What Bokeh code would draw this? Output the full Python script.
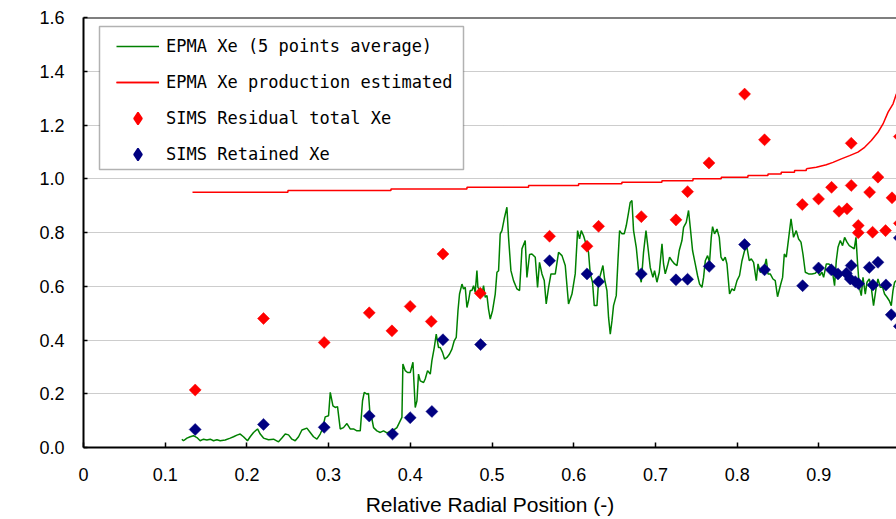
import math

from bokeh.plotting import figure
from bokeh.models import (Range1d, FixedTicker, CustomJSTickFormatter, Span, Label,
                          Legend, LegendItem, BoxAnnotation)
from bokeh.embed import file_html
from bokeh.resources import INLINE

# Axis ticks and their labels
x_ticks = [0, 0.1, 0.2, 0.3, 0.4, 0.5, 0.6, 0.7, 0.8, 0.9]
x_tick_labels = ["0", "0.1", "0.2", "0.3", "0.4", "0.5", "0.6", "0.7", "0.8", "0.9"]
y_ticks = [0, 0.2, 0.4, 0.6, 0.8, 1.0, 1.2, 1.4, 1.6]
y_tick_labels = ["0.0", "0.2", "0.4", "0.6", "0.8", "1.0", "1.2", "1.4", "1.6"]

# EPMA Xe, 5-point running average (relative radial position, wt%)
epma_x = [
    0.1204, 0.1224, 0.1266, 0.1306, 0.1346, 0.1388, 0.1428, 0.1469, 0.1510, 0.1551,
    0.1591, 0.1633, 0.1673, 0.1734, 0.1796, 0.1836, 0.1878, 0.1918, 0.1958, 0.2007,
    0.2040, 0.2081, 0.2130, 0.2163, 0.2203, 0.2264, 0.2326, 0.2387, 0.2428, 0.2469,
    0.2509, 0.2551, 0.2591, 0.2632, 0.2673, 0.2734, 0.2775, 0.2815, 0.2857, 0.2897,
    0.2925, 0.2958, 0.2999, 0.3020, 0.3053, 0.3081, 0.3109, 0.3142, 0.3182, 0.3224,
    0.3264, 0.3305, 0.3346, 0.3387, 0.3415, 0.3436, 0.3469, 0.3488, 0.3509, 0.3530,
    0.3550, 0.3591, 0.3632, 0.3672, 0.3714, 0.3754, 0.3794, 0.3836, 0.3876, 0.3897,
    0.3909, 0.3938, 0.3966, 0.3999, 0.4032, 0.4060, 0.4081, 0.4100, 0.4121, 0.4162,
    0.4182, 0.4211, 0.4244, 0.4264, 0.4293, 0.4317, 0.4345, 0.4366, 0.4394, 0.4419,
    0.4448, 0.4480, 0.4509, 0.4537, 0.4562, 0.4583, 0.4602, 0.4632, 0.4651, 0.4672,
    0.4693, 0.4712, 0.4733, 0.4754, 0.4774, 0.4794, 0.4815, 0.4827, 0.4856, 0.4876,
    0.4896, 0.4917, 0.4938, 0.4957, 0.4978, 0.5006, 0.5039, 0.5060, 0.5080, 0.5100,
    0.5121, 0.5149, 0.5182, 0.5202, 0.5231, 0.5263, 0.5305, 0.5337, 0.5366, 0.5406,
    0.5427, 0.5459, 0.5488, 0.5529, 0.5557, 0.5581, 0.5611, 0.5639, 0.5663, 0.5692,
    0.5721, 0.5774, 0.5814, 0.5856, 0.5896, 0.5936, 0.5978, 0.6018, 0.6047, 0.6071,
    0.6092, 0.6120, 0.6162, 0.6181, 0.6202, 0.6230, 0.6251, 0.6284, 0.6304, 0.6324,
    0.6357, 0.6377, 0.6406, 0.6426, 0.6447, 0.6468, 0.6487, 0.6520, 0.6541, 0.6561,
    0.6590, 0.6618, 0.6643, 0.6671, 0.6691, 0.6712, 0.6732, 0.6765, 0.6793, 0.6826,
    0.6854, 0.6884, 0.6908, 0.6936, 0.6969, 0.6989, 0.7018, 0.7047, 0.7080, 0.7099,
    0.7120, 0.7148, 0.7173, 0.7202, 0.7234, 0.7263, 0.7291, 0.7324, 0.7344, 0.7377,
    0.7405, 0.7426, 0.7454, 0.7487, 0.7515, 0.7540, 0.7569, 0.7589, 0.7610, 0.7638,
    0.7662, 0.7683, 0.7699, 0.7723, 0.7753, 0.7781, 0.7802, 0.7826, 0.7854, 0.7875,
    0.7907, 0.7936, 0.7965, 0.7998, 0.8029, 0.8059, 0.8091, 0.8120, 0.8148, 0.8173,
    0.8201, 0.8234, 0.8255, 0.8283, 0.8311, 0.8332, 0.8356, 0.8377, 0.8405, 0.8438,
    0.8466, 0.8494, 0.8528, 0.8556, 0.8577, 0.8601, 0.8629, 0.8659, 0.8690, 0.8723,
    0.8752, 0.8781, 0.8805, 0.8834, 0.8874, 0.8916, 0.8956, 0.8984, 0.9009, 0.9038,
    0.9058, 0.9091, 0.9119, 0.9148, 0.9173, 0.9192, 0.9213, 0.9234, 0.9262, 0.9290,
    0.9315, 0.9344, 0.9372, 0.9405, 0.9433, 0.9454, 0.9474, 0.9495, 0.9519, 0.9540,
    0.9568, 0.9589, 0.9617, 0.9641, 0.9669, 0.9699, 0.9723, 0.9752, 0.9780, 0.9804,
    0.9834, 0.9862, 0.9886, 0.9907, 0.9927, 0.9947,
]
epma_y = [
    0.031, 0.025, 0.035, 0.040, 0.044, 0.037, 0.025, 0.031, 0.028, 0.031,
    0.025, 0.029, 0.025, 0.028, 0.035, 0.040, 0.046, 0.050, 0.040, 0.025,
    0.040, 0.056, 0.069, 0.050, 0.035, 0.029, 0.031, 0.021, 0.035, 0.050,
    0.047, 0.031, 0.025, 0.040, 0.065, 0.072, 0.056, 0.040, 0.031, 0.050,
    0.069, 0.114, 0.118, 0.205, 0.155, 0.149, 0.152, 0.069, 0.074, 0.089,
    0.069, 0.069, 0.062, 0.062, 0.174, 0.205, 0.199, 0.201, 0.112, 0.106,
    0.074, 0.062, 0.056, 0.062, 0.054, 0.060, 0.065, 0.074, 0.099, 0.112,
    0.311, 0.286, 0.279, 0.279, 0.317, 0.149, 0.174, 0.273, 0.248, 0.242,
    0.255, 0.286, 0.273, 0.323, 0.372, 0.422, 0.372, 0.372, 0.354, 0.329,
    0.335, 0.348, 0.366, 0.397, 0.410, 0.509, 0.571, 0.608, 0.590, 0.596,
    0.521, 0.546, 0.584, 0.584, 0.602, 0.577, 0.658, 0.596, 0.584, 0.571,
    0.602, 0.559, 0.565, 0.515, 0.478, 0.509, 0.571, 0.652, 0.658, 0.795,
    0.807, 0.851, 0.894, 0.782, 0.658, 0.621, 0.590, 0.584, 0.739, 0.770,
    0.633, 0.718, 0.720, 0.708, 0.596, 0.689, 0.646, 0.621, 0.534, 0.596,
    0.646, 0.646, 0.726, 0.714, 0.677, 0.534, 0.571, 0.646, 0.807, 0.776,
    0.807, 0.788, 0.745, 0.726, 0.646, 0.615, 0.528, 0.528, 0.621, 0.640,
    0.677, 0.627, 0.584, 0.484, 0.422, 0.472, 0.528, 0.565, 0.695, 0.807,
    0.795, 0.795, 0.826, 0.875, 0.912, 0.919, 0.807, 0.745, 0.658, 0.615,
    0.726, 0.807, 0.745, 0.670, 0.633, 0.658, 0.615, 0.652, 0.758, 0.683,
    0.646, 0.677, 0.708, 0.695, 0.683, 0.677, 0.733, 0.770, 0.819, 0.838,
    0.882, 0.819, 0.733, 0.683, 0.640, 0.608, 0.596, 0.633, 0.695, 0.714,
    0.689, 0.782, 0.822, 0.795, 0.813, 0.782, 0.708, 0.695, 0.708, 0.683,
    0.571, 0.590, 0.584, 0.621, 0.640, 0.695, 0.733, 0.745, 0.695, 0.702,
    0.689, 0.621, 0.683, 0.652, 0.658, 0.670, 0.702, 0.646, 0.646, 0.627,
    0.621, 0.561, 0.602, 0.633, 0.720, 0.708, 0.776, 0.851, 0.782, 0.807,
    0.776, 0.764, 0.720, 0.652, 0.646, 0.646, 0.648, 0.658, 0.640, 0.652,
    0.633, 0.683, 0.683, 0.677, 0.640, 0.602, 0.695, 0.745, 0.770, 0.751,
    0.782, 0.764, 0.751, 0.745, 0.739, 0.782, 0.683, 0.596, 0.565, 0.633,
    0.571, 0.615, 0.627, 0.596, 0.528, 0.590, 0.627, 0.596, 0.596, 0.571,
    0.559, 0.546, 0.528, 0.584, 0.615, 0.621,
]

# Estimated Xe production: stepped plateau, then the rising rim section
prod_step_x = [0.1334, 0.2502, 0.3763, 0.4693, 0.5447, 0.6059, 0.6589, 0.7079,
               0.7459, 0.7805, 0.8132, 0.8377, 0.8539, 0.8702]
prod_step_y = [0.950, 0.956, 0.962, 0.968, 0.975, 0.981, 0.987, 0.993,
               1.000, 1.006, 1.012, 1.018, 1.024, 1.031]
prod_rim_x = [0.8846, 0.8968, 0.9091, 0.9173, 0.9275, 0.9376, 0.9478, 0.9560,
              0.9642, 0.9724, 0.9785, 0.9847, 0.9908, 0.9949]
prod_rim_y = [1.037, 1.043, 1.052, 1.061, 1.074, 1.086, 1.099, 1.117,
              1.142, 1.173, 1.204, 1.248, 1.279, 1.316]

# SIMS residual total Xe
sims_total_x = [0.1367, 0.2203, 0.2946, 0.3497, 0.3775, 0.3998, 0.4256, 0.4399, 0.4856,
                0.5704, 0.6162, 0.6304, 0.6827, 0.7251, 0.7393, 0.7655, 0.8091, 0.8335,
                0.8797, 0.8996, 0.9155, 0.9246, 0.9344, 0.9396, 0.9396, 0.9482, 0.9482,
                0.9621, 0.9657, 0.9723, 0.9816, 0.9895, 0.9985, 0.9985]
sims_total_y = [0.214, 0.480, 0.391, 0.501, 0.434, 0.525, 0.469, 0.720, 0.574,
                0.786, 0.749, 0.823, 0.859, 0.847, 0.952, 1.059, 1.315, 1.145,
                0.904, 0.925, 0.968, 0.879, 0.888, 1.132, 0.975, 0.826, 0.799,
                0.950, 0.801, 1.006, 0.807, 0.929, 1.157, 0.834]

# SIMS retained Xe
sims_ret_x = [0.1367, 0.2203, 0.2946, 0.3497, 0.3782, 0.3998, 0.4264, 0.4399, 0.4860,
              0.5704, 0.6162, 0.6304, 0.6827, 0.7251, 0.7393, 0.7658, 0.8091, 0.8335,
              0.8801, 0.8996, 0.9152, 0.9234, 0.9336, 0.9396, 0.9384, 0.9445, 0.9486,
              0.9617, 0.9662, 0.9723, 0.9821, 0.9886, 0.9985, 0.9985]
sims_ret_y = [0.067, 0.086, 0.075, 0.117, 0.050, 0.111, 0.134, 0.401, 0.383,
              0.695, 0.646, 0.617, 0.646, 0.624, 0.626, 0.674, 0.755, 0.661,
              0.602, 0.668, 0.661, 0.646, 0.648, 0.677, 0.627, 0.617, 0.609,
              0.670, 0.605, 0.689, 0.605, 0.494, 0.451, 0.780]

SANS = "Liberation Sans"
GREEN = "#008000"
RED = "#ff0000"
NAVY = "#000080"

p = figure(width=896, height=519, output_backend="svg", toolbar_location=None,
           x_range=Range1d(0, 0.995), y_range=Range1d(0, 1.6),
           min_border_left=83, min_border_right=0, min_border_top=17,
           min_border_bottom=72)
p.outline_line_color = None
p.background_fill_color = "white"
p.border_fill_color = "white"

p.xaxis.axis_label = "Relative Radial Position (-)"

for ax in (p.xaxis[0], p.yaxis[0]):
    ax.axis_line_color = "black"
    ax.axis_line_width = 2
    ax.major_tick_line_color = "black"
    ax.major_tick_line_width = 1.5
    ax.minor_tick_line_color = None
    ax.major_tick_out = 0
    ax.major_label_text_font = SANS
    ax.major_label_text_font_size = "18px"
    ax.major_label_text_color = "black"
    ax.axis_label_text_font = SANS
    ax.axis_label_text_font_size = "21px"
    ax.axis_label_text_font_style = "normal"
    ax.axis_label_text_color = "black"

p.xaxis.axis_label_standoff = 9
p.xaxis.major_tick_in = 5
p.yaxis.major_tick_in = 4
p.xaxis.major_label_standoff = 20
p.yaxis.major_label_standoff = 19

p.xaxis.ticker = FixedTicker(ticks=x_ticks)
p.yaxis.ticker = FixedTicker(ticks=y_ticks)
p.xaxis.formatter = CustomJSTickFormatter(code="return tick === 0 ? '0' : tick.toFixed(1);")
p.yaxis.formatter = CustomJSTickFormatter(code="return tick.toFixed(1);")
p.xaxis.major_label_overrides = dict(zip(x_ticks, x_tick_labels))
p.yaxis.major_label_overrides = dict(zip(y_ticks, y_tick_labels))

p.xgrid.grid_line_color = None
p.ygrid.grid_line_color = "#9a9a9a"
p.ygrid.grid_line_dash = "1 1"
p.ygrid.grid_line_width = 1

# top edge of the plot area
p.add_layout(Span(location=y_ticks[-1], dimension="width",
                  line_color="black", line_width=2))

# vertical axis title, set a little above the middle of the axis
p.add_layout(Label(text="Xe Concentration (wt%)", x=21, y=210,
                   x_units="canvas", y_units="canvas", angle=math.pi / 2,
                   text_align="center", text_baseline="middle",
                   text_font=SANS, text_font_size="19.5px", text_color="black"))

epma = p.line(epma_x, epma_y, line_color=GREEN, line_width=1.5)
prod_steps = p.step(prod_step_x + prod_rim_x[:1], prod_step_y + prod_rim_y[:1],
                    mode="after", line_color=RED, line_width=1.5)
prod_rim = p.line(prod_rim_x, prod_rim_y, line_color=RED, line_width=1.5)
total = p.scatter(sims_total_x, sims_total_y, marker="square", angle=math.pi / 4,
                  size=8.5, fill_color=RED, line_color=RED, line_width=0.5)
retained = p.scatter(sims_ret_x, sims_ret_y, marker="square", angle=math.pi / 4,
                     size=8.5, fill_color=NAVY, line_color=NAVY, line_width=0.5)

# diamond keys for the legend (no visible points of their own)
total_key = p.scatter([math.nan], [math.nan], marker="diamond",
                      fill_color=RED, line_color=RED, line_width=1.6)
retained_key = p.scatter([math.nan], [math.nan], marker="diamond",
                         fill_color=NAVY, line_color=NAVY, line_width=1.6)

# white, black-framed panel behind the legend entries
legend_frame = BoxAnnotation(left=99, right=463, top=26, bottom=169,
                             left_units="canvas", right_units="canvas",
                             top_units="canvas", bottom_units="canvas",
                             fill_color="white", fill_alpha=1.0,
                             line_color="black", line_width=1.5)
p.add_layout(legend_frame)

legend = Legend(
    items=[
        LegendItem(label="EPMA Xe (5 points average)", renderers=[epma]),
        LegendItem(label="EPMA Xe production estimated", renderers=[prod_steps, prod_rim]),
        LegendItem(label="SIMS Residual total Xe", renderers=[total_key]),
        LegendItem(label="SIMS Retained Xe", renderers=[retained_key]),
    ],
    location=(33, 278), margin=0, padding=8, spacing=6,
    glyph_width=43, glyph_height=30, label_height=30, label_standoff=7,
    border_line_color=None, background_fill_alpha=0,
    label_text_font="DejaVu Sans Mono", label_text_font_size="17px",
    label_text_color="black",
)
p.add_layout(legend)

open("out.html", "w").write(file_html(p, INLINE))
